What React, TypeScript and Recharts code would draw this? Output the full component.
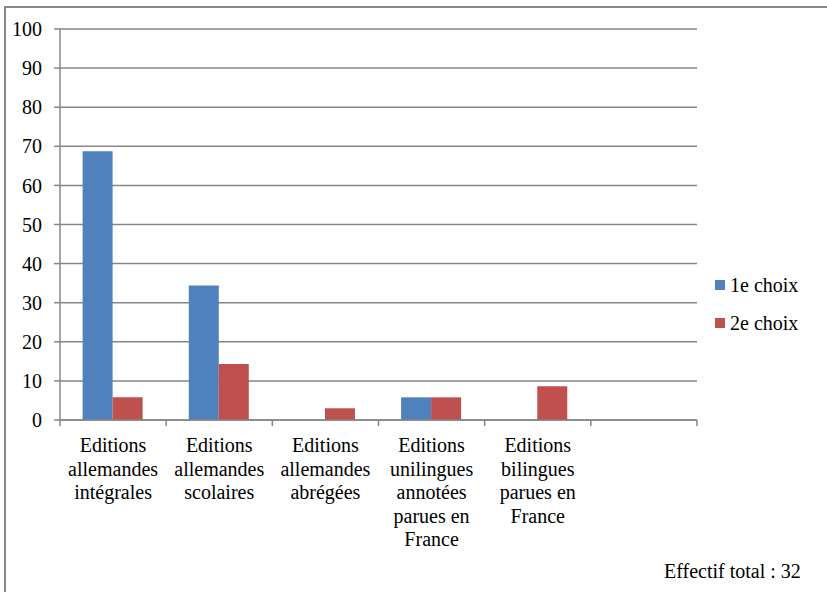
import React from "react";
import { BarChart, Bar, XAxis, YAxis, CartesianGrid } from "recharts";

// Categories (line breaks mark where each label wraps)
const categories = [
  "Editions\nallemandes\nintégrales",
  "Editions\nallemandes\nscolaires",
  "Editions\nallemandes\nabrégées",
  "Editions\nunilingues\nannotées\nparues en\nFrance",
  "Editions\nbilingues\nparues en\nFrance",
  "",
];

// Percentages per category
const premierChoix = [68.75, 34.4, 0, 5.8, 0, null];
const secondChoix = [5.8, 14.3, 3.0, 5.8, 8.6, null];

const yTicks = [0, 10, 20, 30, 40, 50, 60, 70, 80, 90, 100];

const seriesNames = ["1e choix", "2e choix"];
const seriesColors = ["#4F81BD", "#C0504D"];
const footnote = "Effectif total : 32";

const data = categories.map((c, i) => ({
  name: c,
  premier: premierChoix[i],
  second: secondChoix[i],
}));

const W = 827;
const H = 592;
const PLOT_LEFT = 60;
const PLOT_RIGHT = 697;
const PLOT_TOP = 29;
const PLOT_BOTTOM = 420;
const FONT = "Liberation Serif, DejaVu Serif, Noto Serif, serif";
const GRAY = "#878787";

const band = (PLOT_RIGHT - PLOT_LEFT) / categories.length;

// Bottom axis tick: wrapped label plus tick marks on category boundaries
const CategoryTick = (props: any) => {
  const { x, y, payload, index } = props;
  const lines: string[] = String(payload.value || "").split("\n").filter((s: string) => s.length);
  const left = x - band / 2;
  const right = x + band / 2;
  return (
    <g>
      <line x1={left} x2={left} y1={y} y2={y + 6} stroke={GRAY} strokeWidth={1.5} />
      {index === categories.length - 1 && (
        <line x1={right} x2={right} y1={y} y2={y + 6} stroke={GRAY} strokeWidth={1.5} />
      )}
      <text textAnchor="middle" fontFamily={FONT} fontSize={20} fill="#000">
        {lines.map((l, i) => (
          <tspan key={i} x={x} y={y + 32 + i * 23.5}>
            {l}
          </tspan>
        ))}
      </text>
    </g>
  );
};

function LegendBox() {
  return (
    <div
      style={{
        position: "absolute",
        left: 715,
        top: 266,
        fontSize: 20,
        color: "#000",
      }}
    >
      {seriesNames.map((n, i) => (
        <div
          key={n}
          style={{ display: "flex", alignItems: "center", height: 38, lineHeight: "20px" }}
        >
          <span
            style={{
              display: "inline-block",
              width: 10,
              height: 10,
              background: seriesColors[i],
              marginRight: 5,
            }}
          />
          <span>{n}</span>
        </div>
      ))}
    </div>
  );
}

export default function App() {
  return (
    <div
      style={{
        position: "absolute",
        left: 0,
        top: 0,
        width: W,
        height: H,
        overflow: "hidden",
        background: "#fff",
        fontFamily: FONT,
      }}
    >
      <div
        style={{
          position: "absolute",
          left: 4,
          top: 6,
          width: W + 10,
          height: H + 10,
          borderLeft: `2px solid ${GRAY}`,
          borderTop: `2px solid ${GRAY}`,
          boxSizing: "border-box",
        }}
      />
      <div style={{ position: "absolute", left: 0, top: 0 }}>
        <BarChart
          width={W}
          height={H}
          data={data}
          margin={{ top: PLOT_TOP, right: W - PLOT_RIGHT, bottom: 0, left: 0 }}
          barCategoryGap="21.3%"
          barGap={0}
        >
          <CartesianGrid vertical={false} stroke={GRAY} strokeWidth={1.5} />
          <XAxis
            dataKey="name"
            height={H - PLOT_BOTTOM}
            axisLine={{ stroke: GRAY, strokeWidth: 1.5 }}
            tickLine={false}
            tickSize={0}
            tickMargin={0}
            interval={0}
            tick={<CategoryTick />}
          />
          <YAxis
            width={PLOT_LEFT}
            domain={[0, 100]}
            ticks={yTicks}
            interval={0}
            axisLine={{ stroke: GRAY, strokeWidth: 1.5 }}
            tickLine={{ stroke: GRAY, strokeWidth: 1.5 }}
            tickSize={6}
            tickMargin={12}
            tick={{ fontSize: 20, fill: "#000", fontFamily: FONT }}
          />
          <Bar
            dataKey="premier"
            name={seriesNames[0]}
            fill={seriesColors[0]}
            isAnimationActive={false}
          />
          <Bar
            dataKey="second"
            name={seriesNames[1]}
            fill={seriesColors[1]}
            isAnimationActive={false}
          />
        </BarChart>
      </div>
      <LegendBox />
      <div
        style={{
          position: "absolute",
          left: 664,
          top: 559,
          fontSize: 20,
          lineHeight: "24px",
          color: "#000",
          whiteSpace: "nowrap",
        }}
      >
        {footnote}
      </div>
    </div>
  );
}
